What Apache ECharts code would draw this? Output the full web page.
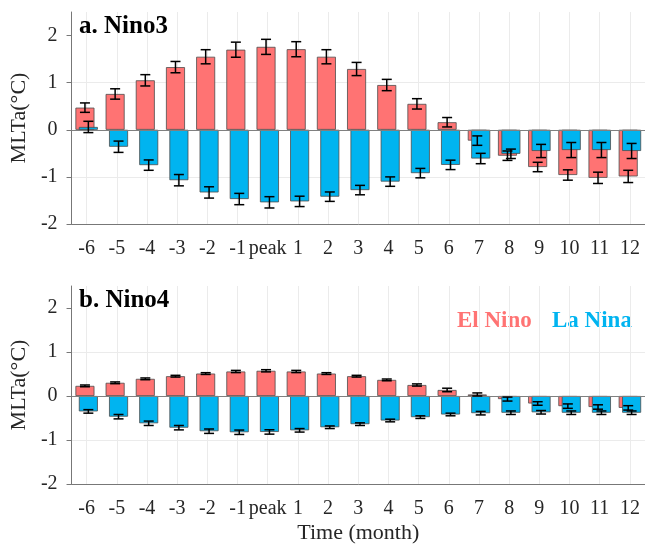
<!DOCTYPE html>
<html>
<head>
<meta charset="utf-8">
<script src="https://cdn.jsdelivr.net/npm/echarts@6/dist/echarts.min.js"></script>
<style>
  html, body { margin: 0; padding: 0; background: #fff; }
  #chart { width: 645px; height: 547px; }
</style>
</head>
<body>
<div id="chart"></div>
<script>
// months relative to the event peak
var months = ['-6', '-5', '-4', '-3', '-2', '-1', 'peak', '1', '2', '3', '4', '5', '6', '7', '8', '9', '10', '11', '12']
var yTicks = [-2, -1, 0, 1, 2]

// a. Nino3
var nino3El = [0.47, 0.76, 1.05, 1.33, 1.55, 1.70, 1.76, 1.71, 1.55, 1.29, 0.95, 0.55, 0.16, -0.23, -0.55, -0.79, -0.96, -1.02, -0.99]
var nino3ElErr = [0.10, 0.11, 0.12, 0.12, 0.15, 0.16, 0.16, 0.16, 0.15, 0.14, 0.12, 0.11, 0.10, 0.10, 0.10, 0.10, 0.11, 0.12, 0.13]
var nino3La = [0.06, -0.36, -0.75, -1.07, -1.33, -1.47, -1.54, -1.52, -1.42, -1.28, -1.10, -0.92, -0.745, -0.61, -0.51, -0.45, -0.43, -0.43, -0.45]
var nino3LaErr = [0.12, 0.12, 0.11, 0.12, 0.12, 0.12, 0.12, 0.11, 0.10, 0.10, 0.10, 0.10, 0.10, 0.11, 0.10, 0.14, 0.16, 0.16, 0.16]

// b. Nino4
var nino4El = [0.23, 0.30, 0.39, 0.45, 0.51, 0.557, 0.573, 0.557, 0.51, 0.45, 0.366, 0.25, 0.137, 0.035, -0.07, -0.17, -0.23, -0.25, -0.27]
var nino4ElErr = [0.02, 0.02, 0.02, 0.02, 0.02, 0.025, 0.025, 0.025, 0.02, 0.02, 0.02, 0.025, 0.04, 0.035, 0.045, 0.04, 0.05, 0.05, 0.05]
var nino4La = [-0.35, -0.47, -0.62, -0.72, -0.80, -0.824, -0.817, -0.78, -0.71, -0.64, -0.557, -0.48, -0.42, -0.39, -0.38, -0.37, -0.38, -0.38, -0.38]
var nino4LaErr = [0.04, 0.05, 0.05, 0.05, 0.05, 0.05, 0.05, 0.04, 0.03, 0.03, 0.03, 0.03, 0.03, 0.04, 0.04, 0.04, 0.04, 0.04, 0.04]

var RED = '#FF7373'
var BLUE = '#00B4F0'
var FONT = 'Liberation Serif'
var BAR_W = 19
var SHIFT = 1.7 // half distance between the two overlapping bars

function errData(vals, errs) {
  return vals.map(function (v, i) { return [i, v, errs[i]] })
}

function errSeries(vals, errs, idx, dx) {
  return {
    type: 'custom',
    xAxisIndex: idx,
    yAxisIndex: idx,
    z: 5,
    silent: true,
    data: errData(vals, errs),
    renderItem: function (params, api) {
      var c = api.value(0), v = api.value(1), e = api.value(2)
      var x = api.coord([c, v])[0] + dx
      var top = api.coord([c, v + e])[1]
      var bot = api.coord([c, v - e])[1]
      var st = { stroke: '#000', lineWidth: 1.5 }
      return {
        type: 'group',
        children: [
          { type: 'line', shape: { x1: x, y1: top, x2: x, y2: bot }, style: st },
          { type: 'line', shape: { x1: x - 5, y1: top, x2: x + 5, y2: top }, style: st },
          { type: 'line', shape: { x1: x - 5, y1: bot, x2: x + 5, y2: bot }, style: st }
        ]
      }
    }
  }
}

function barSeries(vals, color, idx, withZero) {
  var s = {
    type: 'bar',
    xAxisIndex: idx,
    yAxisIndex: idx,
    data: vals,
    barWidth: BAR_W,
    barGap: '-82%',
    itemStyle: { color: color, borderColor: '#4d4d4d', borderWidth: 0.8 }
  }
  if (withZero) {
    s.markLine = {
      silent: true,
      symbol: ['none', 'none'],
      label: { show: false },
      lineStyle: { color: '#808080', type: 'solid', width: 1 },
      data: [{ yAxis: 0 }]
    }
  }
  return s
}

function xAxisOf(idx, name) {
  return {
    type: 'category',
    gridIndex: idx,
    data: months,
    name: name,
    nameLocation: 'middle',
    nameGap: 38,
    nameTextStyle: { fontFamily: FONT, fontSize: 22, color: '#262626' },
    axisLine: { onZero: false, lineStyle: { color: '#777', width: 1 } },
    axisTick: { alignWithLabel: true, length: 5, lineStyle: { color: '#777' } },
    axisLabel: { interval: 0, fontFamily: FONT, fontSize: 20, color: '#262626', margin: 15 },
    splitLine: { show: true, alignWithLabel: true, lineStyle: { color: '#ebebeb' } }
  }
}

function yAxisOf(idx) {
  return {
    type: 'value',
    gridIndex: idx,
    min: -2,
    max: 2.5,
    interval: 1,
    name: 'MLTa(°C)',
    nameLocation: 'middle',
    nameGap: 30,
    nameTextStyle: { fontFamily: FONT, fontSize: 22, color: '#262626' },
    axisLine: { show: true, lineStyle: { color: '#777', width: 1 } },
    axisTick: { show: true, length: 5, customValues: yTicks, lineStyle: { color: '#777' } },
    axisLabel: { fontFamily: FONT, fontSize: 20, color: '#262626', margin: 14, customValues: yTicks },
    splitLine: { show: true, showMaxLine: false, lineStyle: { color: '#ebebeb' } }
  }
}

var chart = echarts.init(document.getElementById('chart'))
chart.setOption({
  animation: false,
  backgroundColor: '#fff',
  title: [
    { text: 'a. Nino3', left: 74, top: 9, textStyle: { fontFamily: FONT, fontWeight: 'bold', fontSize: 25, color: '#000' } },
    { text: 'b. Nino4', left: 74, top: 283, textStyle: { fontFamily: FONT, fontWeight: 'bold', fontSize: 25, color: '#000' } }
  ],
  graphic: [
    { type: 'text', left: 457, top: 310, style: { text: 'El Nino', fill: RED, font: 'bold 23px "Liberation Serif"' } },
    { type: 'text', left: 552, top: 310, style: { text: 'La Nina', fill: BLUE, font: 'bold 23px "Liberation Serif"' } }
  ],
  grid: [
    { left: 67, top: 12, width: 581, height: 212 },
    { left: 67, top: 286, width: 581, height: 198 }
  ],
  xAxis: [xAxisOf(0, ''), xAxisOf(1, 'Time (month)')],
  yAxis: [yAxisOf(0), yAxisOf(1)],
  series: [
    barSeries(nino3El, RED, 0, true),
    barSeries(nino3La, BLUE, 0, false),
    errSeries(nino3El, nino3ElErr, 0, -SHIFT),
    errSeries(nino3La, nino3LaErr, 0, SHIFT),
    barSeries(nino4El, RED, 1, true),
    barSeries(nino4La, BLUE, 1, false),
    errSeries(nino4El, nino4ElErr, 1, -SHIFT),
    errSeries(nino4La, nino4LaErr, 1, SHIFT)
  ]
})
</script>
</body>
</html>
